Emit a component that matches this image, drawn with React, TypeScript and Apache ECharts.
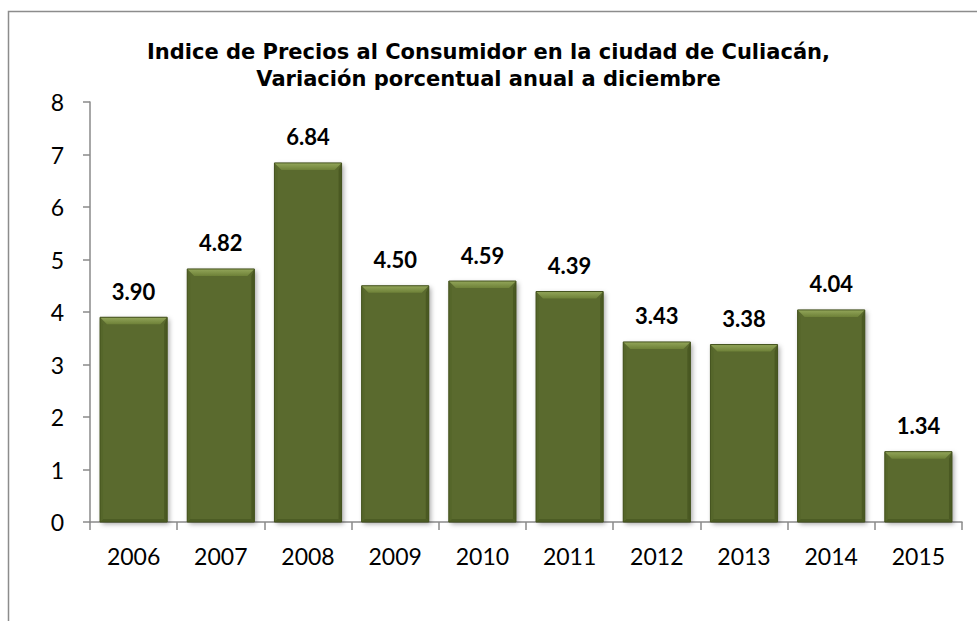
import React, { useEffect, useRef } from "react";
import * as echarts from "echarts";

const titleLines = [
  "Indice de Precios al Consumidor en la ciudad de Culiacán,",
  "Variación porcentual anual a diciembre",
];
const years = ["2006", "2007", "2008", "2009", "2010", "2011", "2012", "2013", "2014", "2015"];
const values = [3.9, 4.82, 6.84, 4.5, 4.59, 4.39, 3.43, 3.38, 4.04, 1.34];
const yTicks = { min: 0, max: 8, interval: 1 };

export default function App() {
  const ref = useRef<HTMLDivElement>(null);
  useEffect(() => {
    if (!ref.current) return;
    const chart = echarts.init(ref.current, undefined, { renderer: "svg" });
    const axisColor = "#8a8a8a";
    const topGrad = new echarts.graphic.LinearGradient(0, 0, 0, 1, [
      { offset: 0, color: "#93a65a" },
      { offset: 1, color: "#6e8138" },
    ]);
    chart.setOption({
      animation: false,
      backgroundColor: "#ffffff",
      title: {
        text: titleLines.join("\n"),
        left: "center",
        top: 38,
        padding: 0,
        textStyle: {
          fontFamily: "DejaVu Sans",
          fontWeight: "bold",
          fontSize: 21,
          lineHeight: 27,
          color: "#000",
          align: "center",
        },
      },
      graphic: [
        {
          type: "polyline",
          shape: { points: [[977, 11.5], [8.5, 11.5], [8.5, 621]] },
          style: { stroke: "#8c8c8c", lineWidth: 1.5, fill: "none" },
          silent: true,
        },
      ],
      grid: { left: 90, right: 15, top: 102, bottom: 99 },
      xAxis: {
        type: "category",
        data: years,
        boundaryGap: true,
        axisLine: { show: true, lineStyle: { color: axisColor, width: 1.5 } },
        axisTick: { show: true, length: 8, interval: 0, lineStyle: { color: axisColor, width: 1.5 } },
        axisLabel: { margin: 22, fontFamily: "Lato", fontSize: 23, color: "#000", interval: 0 },
        splitLine: { show: false },
      },
      yAxis: {
        type: "value",
        min: yTicks.min,
        max: yTicks.max,
        interval: yTicks.interval,
        axisLine: { show: true, lineStyle: { color: axisColor, width: 1.5 } },
        axisTick: { show: true, length: 7, lineStyle: { color: axisColor, width: 1.5 } },
        axisLabel: { margin: 26, fontFamily: "Lato", fontSize: 23, color: "#000" },
        splitLine: { show: false },
      },
      series: [
        {
          type: "custom",
          encode: { x: 0, y: 1 },
          data: values.map((v, i) => [i, v]),
          renderItem: (params: any, api: any) => {
            const idx = api.value(0);
            const v = api.value(1);
            const pt = api.coord([idx, v]);
            const p0 = api.coord([idx, 0]);
            const band = api.size([1, 0])[0];
            const w = band * 0.77;
            const x0 = pt[0] - w / 2;
            const x1 = pt[0] + w / 2;
            const yt = pt[1];
            const yb = p0[1];
            const h = yb - yt;
            const b = Math.min(7, h / 2);
            const s = 3;
            return {
              type: "group",
              children: [
                {
                  type: "rect",
                  shape: { x: x0, y: yt, width: w, height: h },
                  style: {
                    fill: "#5a6b2d",
                    shadowBlur: 5,
                    shadowColor: "rgba(0,0,0,0.35)",
                    shadowOffsetX: 2,
                    shadowOffsetY: 2,
                  },
                },
                {
                  type: "polygon",
                  shape: { points: [[x0, yb], [x1, yb], [x1 - s, yb - s], [x0 + s, yb - s]] },
                  style: { fill: "#4c5c24" },
                },
                {
                  type: "polygon",
                  shape: { points: [[x1, yt], [x1, yb], [x1 - s, yb - s], [x1 - s, yt + b]] },
                  style: { fill: "#4a5922" },
                },
                {
                  type: "polygon",
                  shape: { points: [[x0, yt], [x0, yb], [x0 + s, yb - s], [x0 + s, yt + b]] },
                  style: { fill: "#55662a" },
                },
                {
                  type: "polygon",
                  shape: { points: [[x0, yt], [x1, yt], [x1 - b, yt + b], [x0 + b, yt + b]] },
                  style: { fill: topGrad },
                },
                {
                  type: "rect",
                  shape: { x: x0, y: yt, width: w, height: h },
                  style: { fill: "none", stroke: "#44521e", lineWidth: 1 },
                },
                {
                  type: "text",
                  style: {
                    text: v.toFixed(2),
                    x: pt[0],
                    y: yt - 26,
                    align: "center",
                    verticalAlign: "middle",
                    fontFamily: "Lato",
                    fontWeight: "bold",
                    fontSize: 22,
                    fill: "#000",
                  },
                },
              ],
            };
          },
        },
      ],
    });
    return () => chart.dispose();
  }, []);
  return (
    <div
      ref={ref}
      style={{ position: "absolute", left: 0, top: 0, width: 977, height: 621 }}
    />
  );
}
